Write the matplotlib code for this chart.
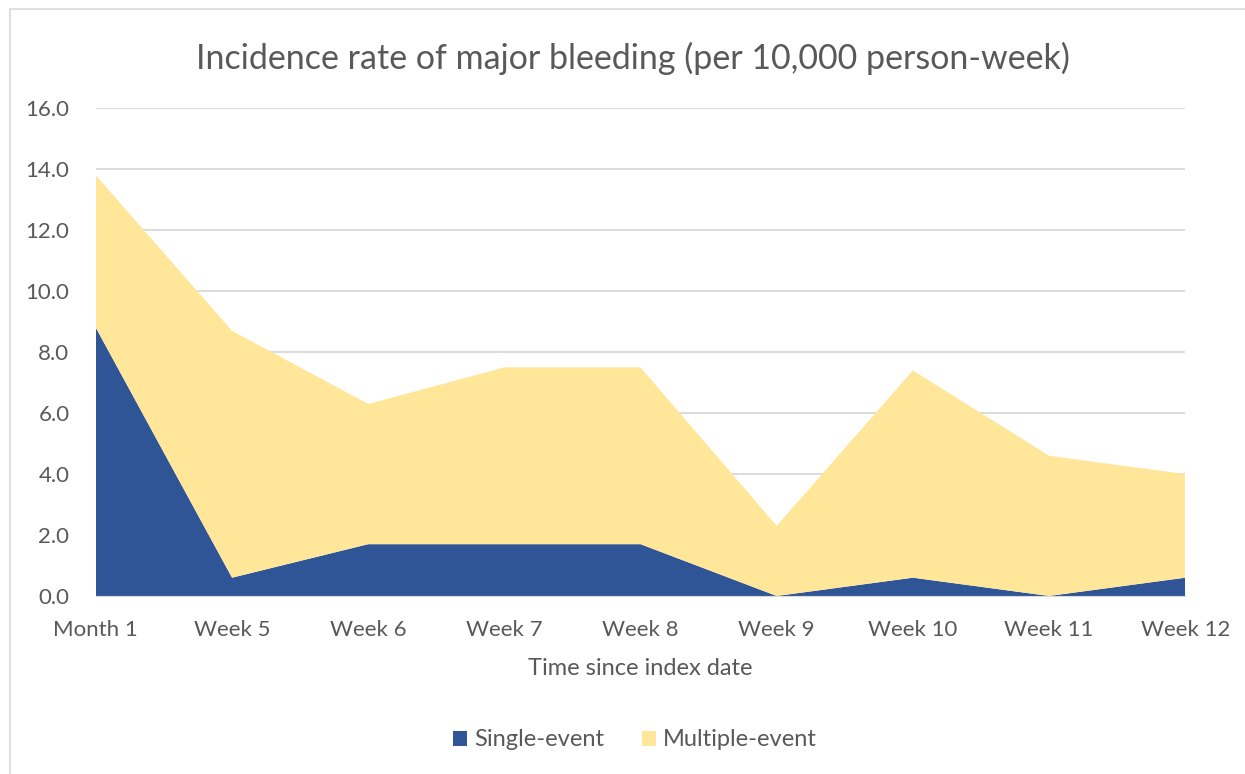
import matplotlib.pyplot as plt
from matplotlib.patches import Rectangle

periods = ['Month 1', 'Week 5', 'Week 6', 'Week 7', 'Week 8', 'Week 9', 'Week 10', 'Week 11', 'Week 12']
single_event = [8.8, 0.6, 1.7, 1.7, 1.7, 0.0, 0.6, 0.0, 0.6]
# total (top of stacked area)
total = [13.8, 8.7, 6.3, 7.5, 7.5, 2.3, 7.4, 4.6, 4.0]
multiple_event = [t - s for t, s in zip(total, single_event)]

plt.rcParams['font.family'] = ['Lato', 'DejaVu Sans']
grey = '#595959'

fig = plt.figure(figsize=(12.45, 7.74), dpi=100)
ax = fig.add_axes([0.077, 0.230, 0.875, 0.630])

x = list(range(len(periods)))
ax.stackplot(x, single_event, multiple_event, colors=['#2F5597', '#FFE699'],
             labels=['Single-event', 'Multiple-event'], zorder=2)

ax.set_xlim(0, len(periods) - 1)
ax.set_ylim(0, 16)
ax.set_yticks(range(0, 17, 2))
ax.set_yticklabels([f'{v:.1f}' for v in range(0, 17, 2)])
ax.set_xticks(x)
ax.set_xticklabels(periods)
ax.grid(axis='y', color='#D9D9D9', linewidth=1.3, zorder=0)
ax.set_axisbelow(True)
for s in ['top', 'right', 'left']:
    ax.spines[s].set_visible(False)
ax.spines['bottom'].set_color('#D9D9D9')
ax.tick_params(length=0, labelsize=16, labelcolor=grey)
ax.tick_params(axis='x', pad=17)
ax.tick_params(axis='y', pad=19)

ax.set_xlabel('Time since index date', fontsize=17, color=grey, labelpad=13)
fig.text(0.508, 0.925, 'Incidence rate of major bleeding (per 10,000 person-week)',
         ha='center', va='center', fontsize=24.5, color=grey)

leg = ax.legend(loc='center', bbox_to_anchor=(0.495, -0.295), ncol=2, frameon=False,
                fontsize=17, handlelength=0.6, handleheight=0.6, columnspacing=1.6,
                handletextpad=0.3)
for t in leg.get_texts():
    t.set_color(grey)

fig.patches.append(Rectangle((0.008, -0.01), 1.0, 0.998, transform=fig.transFigure,
                             fill=False, edgecolor='#D9D9D9', linewidth=1.2))

fig.savefig('out.png', dpi=100)
